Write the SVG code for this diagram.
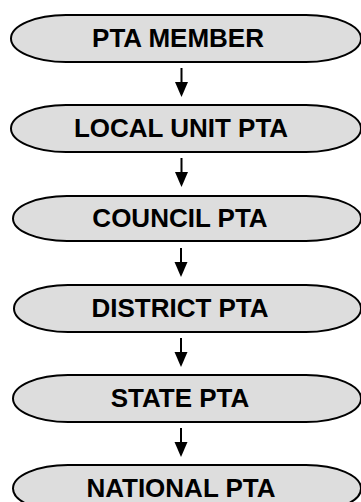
<svg xmlns="http://www.w3.org/2000/svg" width="361" height="502" viewBox="0 0 361 502">
<style>
.n{fill:#dddddd;stroke:#000;stroke-width:2}
.t{font-family:"Liberation Sans",Arial,sans-serif;font-weight:bold;font-size:26px;fill:#000;text-anchor:middle}
.c{stroke:#000;stroke-width:2;fill:none}
</style>
<rect width="361" height="502" fill="#fff"/>
<g id="n1"><path class="n" d="M66,15 H306 A55,23.5 0 0 1 306,62 H66 A55,23.5 0 0 1 66,15 Z"/><text class="t" x="178" y="47">PTA MEMBER</text></g>
<g id="n2"><path class="n" d="M66,105 H306 A55,23.5 0 0 1 306,152 H66 A55,23.5 0 0 1 66,105 Z"/><text class="t" x="181" y="137">LOCAL UNIT PTA</text></g>
<g id="n3"><path class="n" d="M67,196 H306 A55,22.5 0 0 1 306,241 H67 A54,22.5 0 0 1 67,196 Z"/><text class="t" x="180" y="227">COUNCIL PTA</text></g>
<g id="n4"><path class="n" d="M68,285 H306 A55,23.5 0 0 1 306,332 H68 A54,23.5 0 0 1 68,285 Z"/><text class="t" x="180" y="317">DISTRICT PTA</text></g>
<g id="n5"><path class="n" d="M68,375 H306 A55,23.5 0 0 1 306,422 H68 A55,23.5 0 0 1 68,375 Z"/><text class="t" x="180" y="407">STATE PTA</text></g>
<g id="n6"><path class="n" d="M68,465 H306 A55,23.5 0 0 1 306,512 H68 A55,23.5 0 0 1 68,465 Z"/><text class="t" x="181" y="497">NATIONAL PTA</text></g>
<g id="connectors">
<line class="c" x1="181.5" y1="68" x2="181.5" y2="84"/><path d="M175,82 L188,82 L181.5,97 Z"/>
<line class="c" x1="181.5" y1="158" x2="181.5" y2="174"/><path d="M175,172 L188,172 L181.5,187 Z"/>
<line class="c" x1="181" y1="248" x2="181" y2="264"/><path d="M174.5,262 L187.5,262 L181,277 Z"/>
<line class="c" x1="181" y1="338" x2="181" y2="354"/><path d="M174.5,352 L187.5,352 L181,367 Z"/>
<line class="c" x1="181" y1="428" x2="181" y2="444"/><path d="M174.5,442 L187.5,442 L181,457 Z"/>
</g>
</svg>
